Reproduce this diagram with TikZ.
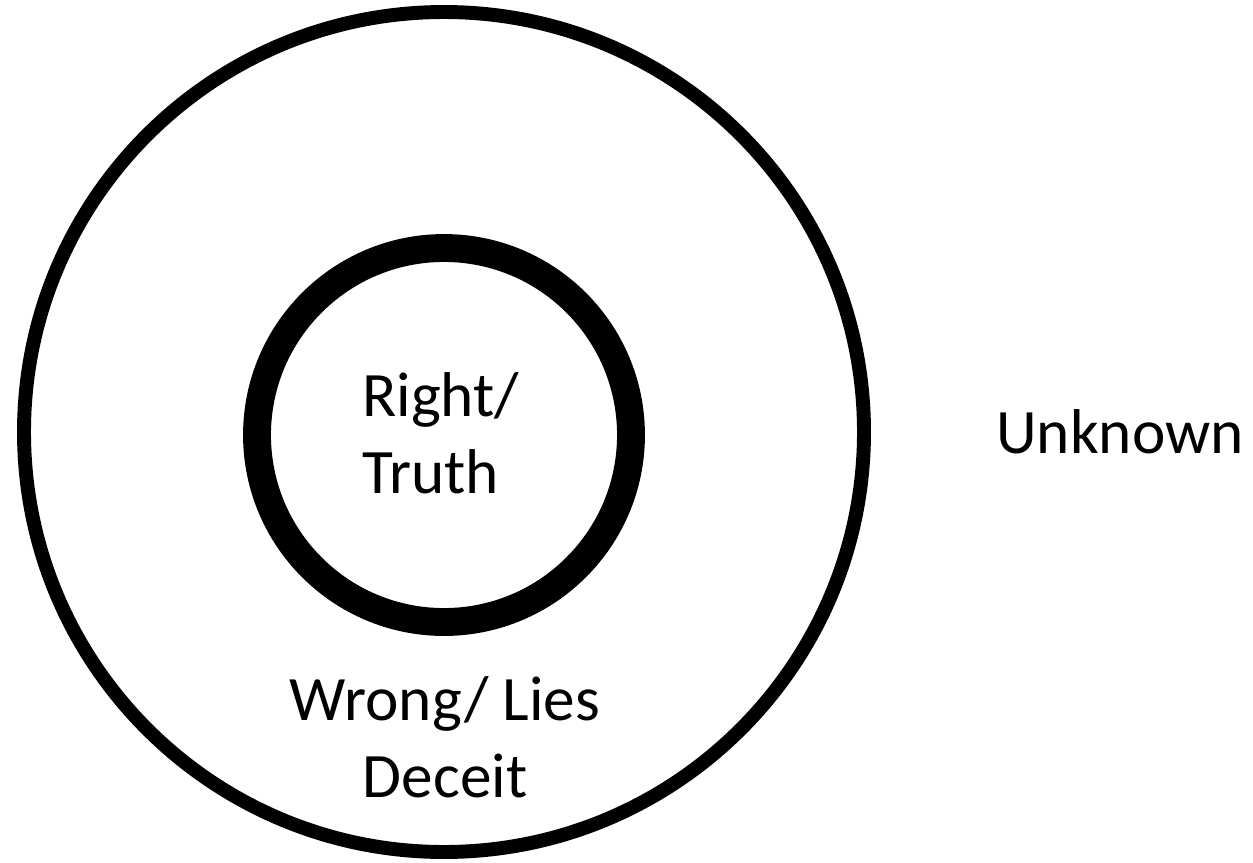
\documentclass[tikz,border=0pt]{standalone}
\usepackage{fontspec}
\setmainfont{Carlito}

\begin{document}
\begin{tikzpicture}[
  x=0.03cm, y=-0.03cm,
  ring/.style={draw, circle, line width=11.9pt, inner sep=0pt},
  core/.style={draw, circle, line width=23.8pt, inner sep=0pt},
  lab/.style={inner sep=0pt, font=\fontsize{54}{65.5}\selectfont}
]
\useasboundingbox (0,0) rectangle (1253,862);

% outer area and the thick inner ring
\node[ring, minimum size=840*0.03cm] (outer) at (444,432) {};
\node[core, minimum size=374*0.03cm] (inner) at (444,435) {};

% base anchor sits on the last line
\node[lab, align=left, anchor=base west] (truth) at (362,493) {Right/\\Truth};
\node[lab, align=center, anchor=base] (lies) at (445,797) {Wrong/ Lies\\Deceit};
\node[lab, anchor=base west] (unknown) at (996,453) {Unknown};

\end{tikzpicture}
\end{document}
